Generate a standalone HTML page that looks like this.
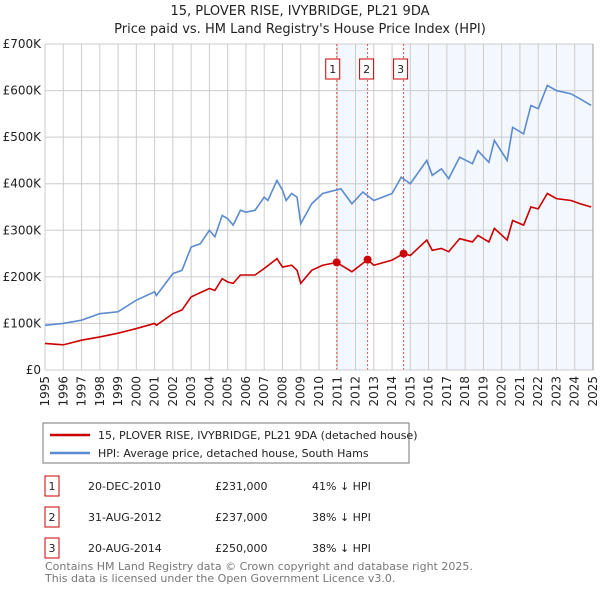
<!DOCTYPE html>
<html><head><meta charset="utf-8"><style>
body{margin:0;background:#fff;font-family:"Liberation Sans","DejaVu Sans",sans-serif;}
svg text{font-family:"DejaVu Sans","Liberation Sans",sans-serif;}
</style></head><body>
<svg id="chart" width="600" height="590" xmlns="http://www.w3.org/2000/svg">
<text x="300" y="15" text-anchor="middle" font-size="13" fill="#222">15, PLOVER RISE, IVYBRIDGE, PL21 9DA</text>
<text x="300" y="33" text-anchor="middle" font-size="13" fill="#222">Price paid vs. HM Land Registry's House Price Index (HPI)</text>
<g id="grid"></g><g id="marks"></g><g id="axes"></g>
<g>
<rect x="43" y="423" width="366" height="40" fill="#fff" stroke="#777"/>
<line x1="50" y1="435" x2="90" y2="435" stroke="#cc0000" stroke-width="2.5"/>
<text x="98" y="439" font-size="11" fill="#222">15, PLOVER RISE, IVYBRIDGE, PL21 9DA (detached house)</text>
<line x1="50" y1="453" x2="90" y2="453" stroke="#5b8bd0" stroke-width="2.5"/>
<text x="98" y="457" font-size="11" fill="#222">HPI: Average price, detached house, South Hams</text>
</g>
<g id="table" font-size="11" fill="#222"></g>
<text x="45" y="570" font-size="11" fill="#777">Contains HM Land Registry data © Crown copyright and database right 2025.</text>
<text x="45" y="582" font-size="11" fill="#777">This data is licensed under the Open Government Licence v3.0.</text>
</svg>
<script>
const hpiYears=[1995,1996,1997,1998,1999,2000,2001,2001.1,2002,2002.5,2003,2003.5,2004,2004.3,2004.7,2005,2005.3,2005.7,2006,2006.5,2007,2007.2,2007.7,2008,2008.2,2008.5,2008.8,2009,2009.6,2010.2,2011.2,2011.8,2012.4,2013,2014,2014.5,2015,2015.9,2016.2,2016.7,2017.1,2017.7,2018.4,2018.7,2019.3,2019.6,2020.3,2020.6,2021.2,2021.6,2022,2022.5,2023,2023.8,2024.3,2024.9];
const hpiValues=[96,100,107,121,125,150,168,160,207,214,264,271,300,286,332,325,311,343,339,343,371,364,407,386,364,379,371,314,357,379,389,357,382,364,379,414,400,450,418,432,411,457,443,471,446,493,450,521,507,568,561,611,600,593,582,568];
const paidYears=[1995,1996,1997,1998,1999,2000,2001,2001.1,2002,2002.5,2003,2004,2004.3,2004.7,2005,2005.3,2005.7,2006.5,2007,2007.7,2008,2008.5,2008.8,2009,2009.6,2010.2,2010.97,2011.8,2012.66,2013,2014,2014.63,2015,2015.9,2016.2,2016.7,2017.1,2017.7,2018.4,2018.7,2019.3,2019.6,2020.3,2020.6,2021.2,2021.6,2022,2022.5,2023,2023.8,2024.3,2024.9];
const paidValues=[57,54,64,71,79,89,100,96,121,129,157,175,171,196,189,186,204,204,218,239,221,225,214,186,214,225,231,211,237,225,236,250,246,279,257,261,254,282,275,289,275,304,279,321,311,350,346,379,368,364,357,350];
const saleLabels=["1","2","3"];
const saleYears=[2010.97,2012.66,2014.63];
const salePrices=[231,237,250];
const saleDates=["20-DEC-2010","31-AUG-2012","20-AUG-2014"];
const salePriceText=["£231,000","£237,000","£250,000"];
const saleDiff=["41% ↓ HPI","38% ↓ HPI","38% ↓ HPI"];
const yTicks=[0,100,200,300,400,500,600,700];
const yTickLabels=["£0","£100K","£200K","£300K","£400K","£500K","£600K","£700K"];
const xTicks=[1995,1996,1997,1998,1999,2000,2001,2002,2003,2004,2005,2006,2007,2008,2009,2010,2011,2012,2013,2014,2015,2016,2017,2018,2019,2020,2021,2022,2023,2024,2025];

const L=45,R=593,T=44,B=370;
const X=y=>L+(y-1995)/(2025-1995)*(R-L);
const Y=v=>B-v/700*(B-T);
const NS="http://www.w3.org/2000/svg";
function mk(tag,attrs,parent){const e=document.createElementNS(NS,tag);for(const k in attrs)e.setAttribute(k,attrs[k]);parent.appendChild(e);return e;}
const grid=document.getElementById('grid'),marks=document.getElementById('marks'),axes=document.getElementById('axes'),table=document.getElementById('table');
const shade=mk('rect',{x:X(saleYears[0]),y:T,width:X(saleYears[1])-X(saleYears[0]),height:B-T,fill:'#f3f7fe'},grid);


const shade2=mk('rect',{x:X(saleYears[2]),y:T,width:R-X(saleYears[2]),height:B-T,fill:'#f3f7fe'},grid);


yTicks.forEach((v,i)=>{
 const g=mk('line',{x1:L,x2:R,y1:Y(v),y2:Y(v),stroke:'#ccc','stroke-width':1},grid);
 
 
 const t=mk('text',{x:L-4,y:Y(v)+4,'text-anchor':'end','font-size':12,fill:'#222'},axes);
 
 
 t.textContent=yTickLabels[i];
});
xTicks.forEach(y=>{
 const g=mk('line',{x1:X(y),x2:X(y),y1:T,y2:B,stroke:'#ccc','stroke-width':1},grid);
 
 
 const t=mk('text',{x:0,y:0,'text-anchor':'end','font-size':12,fill:'#222',transform:`translate(${X(y)+4},${B+6}) rotate(-90)`},axes);
 
 
 t.textContent=y;
});
saleYears.forEach((y,i)=>{
 const l=mk('line',{x1:X(y),x2:X(y),y1:T,y2:B,stroke:'#e05050','stroke-width':1,'stroke-dasharray':'2,2'},marks);
 
 
 const r=mk('rect',{x:X(y)-[11,8,10][i],y:59,width:14,height:20,fill:'#fff',stroke:'#c00'},marks);
 
 
 const t=mk('text',{x:X(y)-[11,8,10][i]+7,y:73,'text-anchor':'middle','font-size':11,fill:'#222'},marks);
 
 
 t.textContent=saleLabels[i];
});
const hp=mk('polyline',{points:hpiYears.map((y,i)=>X(y)+','+Y(hpiValues[i])).join(' '),fill:'none',stroke:'#5b8bd0','stroke-width':1.6},marks);


const pp=mk('polyline',{points:paidYears.map((y,i)=>X(y)+','+Y(paidValues[i])).join(' '),fill:'none',stroke:'#cc0000','stroke-width':1.6},marks);


saleYears.forEach((y,i)=>{
 const c=mk('circle',{cx:X(y),cy:Y(salePrices[i]),r:4,fill:'#cc0000'},marks);
 
 
});
mk('line',{x1:L,x2:R,y1:B,y2:B,stroke:'#ccc'},axes);
mk('line',{x1:R,x2:R,y1:T,y2:B,stroke:'#999'},axes);
saleLabels.forEach((s,i)=>{
 const y=486+i*31;
 const r=mk('rect',{x:45,y:y-10,width:14,height:20,fill:'#fff',stroke:'#c00'},table);
 
 
 const cells=[[52,s,'middle'],[88,saleDates[i],'start'],[215,salePriceText[i],'start'],[312,saleDiff[i],'start']];
 cells.forEach(c=>{
  const t=mk('text',{x:c[0],y:y+4,'text-anchor':c[2],'font-size':11,fill:'#222'},table);
  
  
  t.textContent=c[1];
 });
});
</script>
</body></html>
